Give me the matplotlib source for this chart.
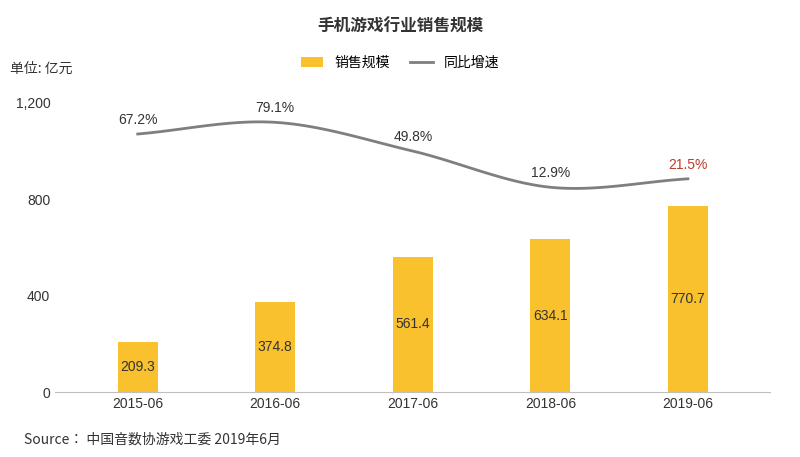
import matplotlib
matplotlib.use("Agg")
import matplotlib.pyplot as plt
from matplotlib import font_manager
import numpy as np

cjk = [f for f in font_manager.fontManager.ttflist if "CJK" in f.name]
cjk_name = None
for pref in ["Noto Sans CJK SC", "Noto Sans CJK JP", "Noto Sans CJK TC", "Noto Sans CJK KR"]:
    if any(f.name == pref for f in cjk):
        cjk_name = pref
        break
if cjk_name is None and cjk:
    cjk_name = cjk[0].name
plt.rcParams["font.family"] = "sans-serif"
plt.rcParams["font.sans-serif"] = ([cjk_name] if cjk_name else []) + ["DejaVu Sans"]
NUM_FONT = "Liberation Sans"

years = ["2015-06", "2016-06", "2017-06", "2018-06", "2019-06"]
sales = [209.3, 374.8, 561.4, 634.1, 770.7]
growth = [67.2, 79.1, 49.8, 12.9, 21.5]
growth_labels = ["67.2%", "79.1%", "49.8%", "12.9%", "21.5%"]

BAR = "#F8C12D"
LINE = "#7F7F7F"
TEXT = "#333333"


def catmull_rom(xs, ys, n=30):
    xs, ys = np.asarray(xs, float), np.asarray(ys, float)
    px = np.concatenate([[2 * xs[0] - xs[1]], xs, [2 * xs[-1] - xs[-2]]])
    py = np.concatenate([[2 * ys[0] - ys[1]], ys, [2 * ys[-1] - ys[-2]]])
    ox, oy = [], []
    for i in range(1, len(px) - 2):
        t = np.linspace(0, 1, n, endpoint=(i == len(px) - 3))
        for arr, out in ((px, ox), (py, oy)):
            p0, p1, p2, p3 = arr[i - 1:i + 3]
            out.extend(0.5 * (2 * p1 + (-p0 + p2) * t + (2 * p0 - 5 * p1 + 4 * p2 - p3) * t ** 2
                              + (-p0 + 3 * p1 - 3 * p2 + p3) * t ** 3))
    return ox, oy


fig = plt.figure(figsize=(8, 4.57), dpi=100)
ax = fig.add_axes([0.069, 0.142, 0.894, 0.633])
x = np.arange(len(years))
bars = ax.bar(x, sales, width=0.29, color=BAR, label="销售规模", zorder=2)
for xi, v in zip(x, sales):
    ax.text(xi, v / 2, f"{v}", ha="center", va="center", fontsize=10, color=TEXT,
            family=NUM_FONT, zorder=3)
ax.set_ylim(0, 1200)
ax.set_xlim(-0.6, 4.6)
ax.set_yticks([0, 400, 800, 1200])
ax.set_yticklabels(["0", "400", "800", "1,200"], family=NUM_FONT)
ax.set_xticks(x)
ax.set_xticklabels(years, family=NUM_FONT)
ax.tick_params(axis="both", length=0, labelsize=10, colors=TEXT)
for s in ["top", "right", "left"]:
    ax.spines[s].set_visible(False)
ax.spines["bottom"].set_color("#BFBFBF")

ax2 = ax.twinx()
ax2.set_ylim(-196, 99)
sx, sy = catmull_rom(x, growth)
line, = ax2.plot(sx, sy, color=LINE, lw=2, label="同比增速", zorder=4)
for i, (xi, g, lab) in enumerate(zip(x, growth, growth_labels)):
    ax2.text(xi, g + 7, lab, ha="center", va="bottom", fontsize=10, family=NUM_FONT,
             color="#C0392B" if i == 4 else TEXT)
ax2.axis("off")

fig.text(0.5, 0.93, "手机游戏行业销售规模", ha="center", fontsize=12, fontweight="bold", color=TEXT)
fig.text(0.012, 0.84, "单位: 亿元", fontsize=10, color=TEXT)
fig.legend(handles=[bars, line], loc="center", bbox_to_anchor=(0.5, 0.862), ncol=2,
           frameon=False, fontsize=10, handlelength=1.6, columnspacing=1.5)
fig.text(0.03, 0.03, "Source： 中国音数协游戏工委 2019年6月", fontsize=10, color=TEXT)

fig.savefig("out.png", dpi=100)
